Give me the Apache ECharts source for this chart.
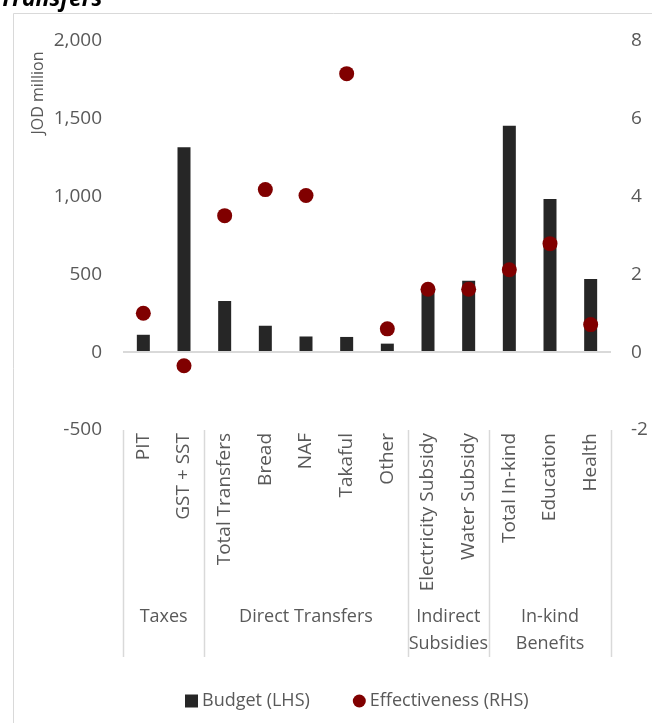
<!DOCTYPE html>
<html>
<head>
<meta charset="utf-8">
<title>Budget and Effectiveness of Taxes and Transfers</title>
<script src="https://cdn.jsdelivr.net/npm/echarts@6/dist/echarts.min.js"></script>
<style>
  html, body { margin: 0; padding: 0; background: #ffffff; }
  #chart { width: 652px; height: 723px; }
</style>
</head>
<body>
<div id="chart"></div>
<script>
// Programmes on the category axis
const categories = ['PIT', 'GST + SST', 'Total Transfers', 'Bread', 'NAF', 'Takaful', 'Other',
                    'Electricity Subsidy', 'Water Subsidy', 'Total In-kind', 'Education', 'Health'];
// Budget, JOD million (left axis)
const budget = [112, 1317, 329, 170, 101, 98, 55, 400, 459, 1456, 985, 470];
// Effectiveness (right axis)
const effectiveness = [1.0, -0.35, 3.51, 4.18, 4.03, 7.16, 0.60, 1.62, 1.62, 2.12, 2.79, 0.71];
// Programme groups shown under the category labels
const groupNames = ['Taxes', 'Direct Transfers', 'Indirect\nSubsidies', 'In-kind\nBenefits'];
const groupSizes = [2, 5, 2, 3];
// Tick settings
const leftTicks = { min: -500, max: 2000, interval: 500 };
const rightTicks = { min: -2, max: 8, interval: 2 };

const FONT = '"Open Sans"';
const GREY = '#595959';

const chart = echarts.init(document.getElementById('chart'), null, { renderer: 'canvas' });

const option = {
  animation: false,
  backgroundColor: '#ffffff',
  textStyle: { fontFamily: FONT },
  grid: { left: 123, right: 41, top: 41, bottom: 293, containLabel: false },
  legend: {
    left: 180, top: 687,
    itemWidth: 13, itemHeight: 13, itemGap: 43,
    textStyle: { fontFamily: FONT, fontSize: 18, color: GREY, padding: [0, 0, 0, -1] },
    data: [
      { name: 'Budget (LHS)', icon: 'rect' },
      { name: 'Effectiveness (RHS)', icon: 'circle' }
    ]
  },
  xAxis: {
    type: 'category',
    data: categories,
    position: 'bottom',
    axisLine: { show: false },
    axisTick: { show: false },
    axisLabel: {
      rotate: 90, interval: 0, margin: 3,
      fontFamily: FONT, fontSize: 19, color: GREY
    }
  },
  yAxis: [
    {
      type: 'value',
      min: leftTicks.min, max: leftTicks.max, interval: leftTicks.interval,
      splitLine: { show: false },
      axisLine: { show: false }, axisTick: { show: false },
      axisLabel: {
        margin: 21, fontFamily: FONT, fontSize: 19, color: GREY,
        formatter: v => v.toLocaleString('en-US')
      }
    },
    {
      type: 'value',
      min: rightTicks.min, max: rightTicks.max, interval: rightTicks.interval,
      splitLine: { show: false },
      axisLine: { show: false }, axisTick: { show: false },
      axisLabel: { margin: 20, fontFamily: FONT, fontSize: 19, color: GREY }
    }
  ],
  series: [
    {
      name: 'Budget (LHS)',
      type: 'bar',
      yAxisIndex: 0,
      data: budget,
      barWidth: 13,
      itemStyle: { color: '#262626' },
      markLine: {
        silent: true, symbol: 'none',
        label: { show: false },
        lineStyle: { color: '#d9d9d9', type: 'solid', width: 2 },
        data: [{ yAxis: 0 }]
      },
      z: 2
    },
    {
      name: 'Effectiveness (RHS)',
      type: 'scatter',
      yAxisIndex: 1,
      data: effectiveness,
      symbol: 'circle',
      symbolSize: 15,
      itemStyle: { color: '#800000', opacity: 1 },
      z: 5
    }
  ]
};

chart.setOption(option);

// Group separators and group names below the category labels
function drawGroups() {
  const c0 = chart.convertToPixel({ xAxisIndex: 0 }, 0);
  const c1 = chart.convertToPixel({ xAxisIndex: 0 }, 1);
  const step = c1 - c0;
  const left = c0 - step / 2;
  const yTop = chart.convertToPixel({ yAxisIndex: 0 }, leftTicks.min);
  const yBottom = 657;
  const elements = [];
  let start = 0;
  const bounds = [left];
  groupSizes.forEach((n, i) => {
    const x0 = left + start * step;
    const x1 = left + (start + n) * step;
    bounds.push(x1);
    elements.push({
      type: 'text',
      x: (x0 + x1) / 2, y: 603,
      style: {
        text: groupNames[i], fill: GREY,
        font: '18px ' + FONT, align: 'center', verticalAlign: 'top', lineHeight: 27
      }
    });
    start += n;
  });
  bounds.forEach(x => {
    elements.push({
      type: 'line',
      shape: { x1: Math.round(x) + 0.5, y1: yTop, x2: Math.round(x) + 0.5, y2: yBottom },
      style: { stroke: '#d9d9d9', lineWidth: 1.5 }
    });
  });
  // chart frame
  elements.push({
    type: 'rect',
    shape: { x: 13.5, y: 13.5, width: 700, height: 760 },
    style: { fill: null, stroke: '#d9d9d9', lineWidth: 1 },
    z: -1
  });
  // heading
  elements.push({
    type: 'text', x: 0, y: 11,
    style: { text: 'Transfers', font: 'italic bold 23px ' + FONT, fill: '#000000',
             align: 'left', verticalAlign: 'bottom' }
  });
  // axis titles
  elements.push({
    type: 'text', x: 38, y: 93, rotation: Math.PI / 2,
    style: { text: 'JOD million', font: '16px ' + FONT, fill: GREY, align: 'center', verticalAlign: 'middle' }
  });
  elements.push({
    type: 'text', x: 658, y: 68, rotation: -Math.PI / 2,
    style: { text: 'Effectiveness', font: '15px ' + FONT, fill: GREY, align: 'center', verticalAlign: 'middle' }
  });
  chart.setOption({ graphic: elements });
}
drawGroups();
</script>
</body>
</html>
